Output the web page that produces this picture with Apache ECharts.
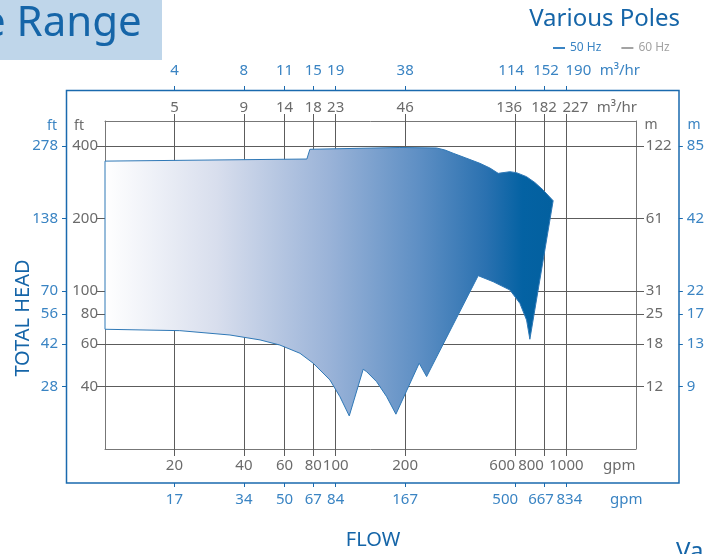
<!DOCTYPE html>
<html>
<head>
<meta charset="utf-8">
<script src="https://cdn.jsdelivr.net/npm/echarts@6/dist/echarts.min.js"></script>
<style>
  html, body { margin: 0; padding: 0; background: #fff; }
  #chart { width: 707px; height: 554px; }
</style>
</head>
<body>
<div id="chart"></div>
<script>
// tick positions (gpm / ft) and the labels printed at them
var flowTicks = [20, 40, 60, 80, 100, 200, 600, 800, 1000];
var gpmGray = ['20', '40', '60', '80', '100', '200', '600', '800', '1000'];
var gpmBlue = ['17', '34', '50', '67', '84', '167', '500', '667', '834'];
var m3hGray = ['5', '9', '14', '18', '23', '46', '136', '182', '227'];
var m3hBlue = ['4', '8', '11', '15', '19', '38', '114', '152', '190'];

var headTicks = [400, 200, 100, 80, 60, 40];
var ftGray = ['400', '200', '100', '80', '60', '40'];
var ftBlue = ['278', '138', '70', '56', '42', '28'];
var mGray = ['122', '61', '31', '25', '18', '12'];
var mBlue = ['85', '42', '22', '17', '13', '9'];

// outline of the performance range, clockwise from top left (gpm, ft)
var rangeFlow = [10, 75, 77.3, 189.8, 273.7, 297.4, 323.1, 366.7, 421.7, 466.0, 506.3,
  568.8, 608.2, 672.0, 730.0, 793.2, 876.2,
  694.5, 672.0, 628.5, 568.8, 481.6, 414.6,
  247.8, 230.1, 182.4, 166.3, 150.4, 136.2, 131.6, 114.5,
  104.3, 94.4, 79.9, 70.0, 57.3, 47.0, 34.8, 21.1, 10];
var rangeHead = [346, 353, 387.5, 394.2, 392.4, 384.9, 373.0, 356.5, 338.8, 323.9, 307.8,
  312.7, 309.7, 298.1, 281.9, 262.4, 236.9,
  62.9, 75.6, 88.7, 100.8, 109.1, 115.6,
  44.0, 50.0, 30.7, 36.3, 41.9, 46.1, 47.2, 30.2,
  36.3, 42.6, 50.0, 55.0, 59.5, 62.5, 65.5, 68.3, 69.2];

var gray = '#6b6b6b';
var gridGray = '#5c5c5c';
var lightBlue = '#3a84c3';
var darkBlue = '#1565a8';
var font = 'Noto Sans';

// the crowded labels on the right are nudged sideways, as in the print (px)
var nudgeGpmGray = [0, 0, 0, 0, 0, 0, -13, -13, 0];
var nudgeGpmBlue = [0, 0, 0, 0, 0, 0, -10, -3, 3];
var nudgeM3hGray = [0, 0, 0, 0, 0, 0, -6, 0, 9];
var nudgeM3hBlue = [0, 0, 0, 0, 0, 0, -4, 2, 12];

function pick(vals, labels) {
  return function (v) {
    if (v < 10) v = Math.pow(10, v);
    var best = 0;
    for (var i = 1; i < vals.length; i++) {
      if (Math.abs(Math.log(vals[i] / v)) < Math.abs(Math.log(vals[best] / v))) best = i;
    }
    return '{t' + best + '|' + labels[best] + '}';
  };
}

// unit text rides along as one more label, right of the last tick
function xAxisOf(pos, offset, labels, nudge, unitText, unitAt, blue, margin) {
  var vals = flowTicks.concat([unitAt]);
  var color = blue ? lightBlue : gray;
  var rich = {};
  vals.forEach(function (v, i) {
    var s = nudge[i] || 0;
    rich['t' + i] = {
      color: color, fontSize: 15, fontFamily: font,
      padding: s < 0 ? [0, -2 * s, 0, 0] : [0, 0, 0, 2 * s]
    };
  });
  return {
    type: 'log', logBase: 10, min: 10, max: 2000,
    position: pos, offset: offset,
    axisLine: { show: !blue, lineStyle: { color: '#777', width: 1 } },
    axisTick: blue
      ? { show: true, customValues: flowTicks, length: 4, lineStyle: { color: '#1a6aae', width: 1 } }
      : { show: true, customValues: flowTicks, inside: true, length: 335, lineStyle: { color: gridGray, width: 1 } },
    axisLabel: {
      customValues: vals, margin: margin,
      color: color, fontSize: 15, fontFamily: font, rich: rich,
      formatter: pick(vals, labels.concat([unitText]))
    },
    splitLine: { show: false }, minorTick: { show: false }
  };
}

function yAxisOf(pos, offset, labels, blue, margin) {
  var fmt = pick(headTicks, labels);
  return {
    type: 'log', logBase: 10, min: 22, max: 508,
    position: pos, offset: offset,
    axisLine: { show: !blue, lineStyle: { color: '#777', width: 1 } },
    axisTick: blue
      ? { show: true, customValues: headTicks, length: 4, lineStyle: { color: '#1a6aae', width: 1 } }
      : { show: true, customValues: headTicks, inside: true, length: 539, lineStyle: { color: gridGray, width: 1 } },
    axisLabel: {
      customValues: headTicks, margin: margin,
      color: blue ? lightBlue : gray, fontSize: 15, fontFamily: font,
      formatter: function (v) { return fmt(v).replace(/^\{t\d+\|(.*)\}$/, '$1'); }
    },
    splitLine: { show: false }, minorTick: { show: false }
  };
}

function unit(text, x, y, color) {
  return {
    type: 'text', x: x, y: y, silent: true,
    style: { text: text, fill: color, font: '14px "' + font + '"', align: 'center', verticalAlign: 'middle' }
  };
}

var chart = echarts.init(document.getElementById('chart'));
var option = {
  animation: false,
  textStyle: { fontFamily: font },
  grid: { left: 105, right: 71, top: 121, bottom: 105 },
  legend: {
    left: 548, top: 37, icon: 'rect', itemWidth: 12, itemHeight: 2, itemGap: 20,
    selectedMode: false, textStyle: { fontSize: 12, fontFamily: font },
    data: [
      { name: '50 Hz', textStyle: { color: lightBlue } },
      { name: '60 Hz', textStyle: { color: '#a3a3a3' } }
    ]
  },
  xAxis: [
    xAxisOf('bottom', 0, gpmGray, nudgeGpmGray, 'gpm', 1696, false, 9),
    xAxisOf('top', 0, m3hGray, nudgeM3hGray, 'm³/hr', 1654, false, 6),
    xAxisOf('bottom', 34, gpmBlue, nudgeGpmBlue, 'gpm', 1819, true, 9),
    xAxisOf('top', 31, m3hBlue, nudgeM3hBlue, 'm³/hr', 1705, true, 12)
  ],
  yAxis: [
    yAxisOf('left', 0, ftGray, false, 7),
    yAxisOf('right', 0, mGray, false, 10),
    yAxisOf('left', 39, ftBlue, true, 8),
    yAxisOf('right', 43, mBlue, true, 8)
  ],
  graphic: [
    { type: 'rect', shape: { x: 0, y: 0, width: 162, height: 60 }, style: { fill: '#bfd6ea' }, silent: true },
    { type: 'text', x: -18, y: 24, style: { text: 'e Range', fill: darkBlue, font: '42px "' + font + '"', align: 'left', verticalAlign: 'middle' } },
    { type: 'text', x: 680, y: 19, style: { text: 'Various Poles', fill: darkBlue, font: '24px "' + font + '"', align: 'right', verticalAlign: 'middle' } },
    { type: 'rect', shape: { x: 66.5, y: 90.5, width: 612.5, height: 392.5 }, style: { fill: 'none', stroke: '#1a6aae', lineWidth: 1.5 }, silent: true },
    unit('ft', 79, 126, gray),
    unit('ft', 52, 126, lightBlue),
    unit('m', 651, 125, gray),
    unit('m', 694, 125, lightBlue),
    { type: 'text', x: 23, y: 318, rotation: Math.PI / 2, style: { text: 'TOTAL HEAD', fill: darkBlue, font: '20px "' + font + '"', align: 'center', verticalAlign: 'middle' } },
    { type: 'text', x: 373, y: 540, style: { text: 'FLOW', fill: darkBlue, font: '20px "' + font + '"', align: 'center', verticalAlign: 'middle' } },
    { type: 'text', x: 676, y: 540, style: { text: 'Va', fill: darkBlue, font: '24px "' + font + '"', align: 'left', verticalAlign: 'top' } }
  ],
  series: [
    {
      name: '50 Hz', type: 'custom', xAxisIndex: 0, yAxisIndex: 0,
      itemStyle: { color: lightBlue },
      data: rangeFlow.map(function (f, i) { return [f, rangeHead[i]]; }),
      renderItem: function (params, api) {
        if (params.dataIndex !== 0) return null;
        var pts = rangeFlow.map(function (f, i) { return api.coord([f, rangeHead[i]]); });
        return {
          type: 'polygon',
          shape: { points: pts },
          style: {
            fill: {
              type: 'linear', x: 0, y: 0, x2: 1, y2: 0,
              colorStops: [
                { offset: 0, color: '#ffffff' },
                { offset: 0.25, color: '#d8deed' },
                { offset: 0.5, color: '#9ab3d8' },
                { offset: 0.7, color: '#5e8fc4' },
                { offset: 0.85, color: '#2a71b0' },
                { offset: 0.93, color: '#0462a3' },
                { offset: 1, color: '#03609f' }
              ]
            },
            stroke: '#2f78b6', lineWidth: 1
          }
        };
      }
    },
    { name: '60 Hz', type: 'line', data: [], itemStyle: { color: '#a3a3a3' }, lineStyle: { color: '#a3a3a3' } }
  ]
};
chart.setOption(option);
</script>
</body>
</html>
